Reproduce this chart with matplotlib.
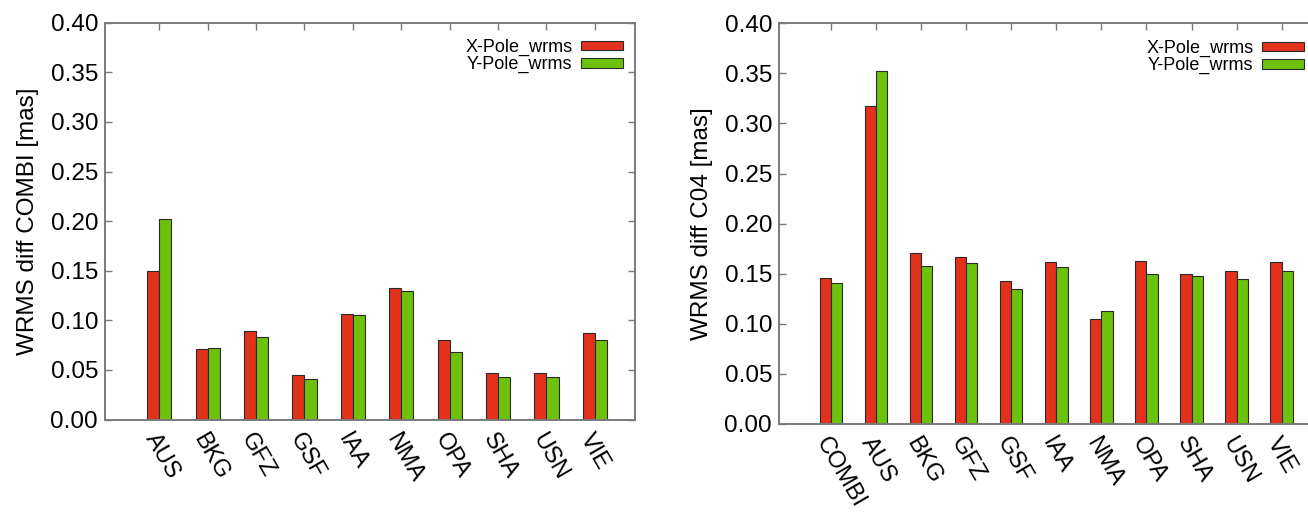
import numpy as np
import matplotlib
matplotlib.use("Agg")
import matplotlib.pyplot as plt

plt.rcParams['font.family'] = ['Liberation Sans', 'DejaVu Sans']

# ---- data ----
combi_cats = ["AUS", "BKG", "GFZ", "GSF", "IAA", "NMA", "OPA", "SHA", "USN", "VIE"]
combi_xpole = [0.150, 0.071, 0.089, 0.045, 0.106, 0.133, 0.080, 0.047, 0.047, 0.087]
combi_ypole = [0.202, 0.072, 0.083, 0.041, 0.105, 0.130, 0.068, 0.043, 0.043, 0.080]

c04_cats = ["COMBI", "AUS", "BKG", "GFZ", "GSF", "IAA", "NMA", "OPA", "SHA", "USN", "VIE"]
c04_xpole = [0.146, 0.317, 0.171, 0.167, 0.143, 0.162, 0.105, 0.163, 0.150, 0.153, 0.162]
c04_ypole = [0.141, 0.352, 0.158, 0.161, 0.135, 0.157, 0.113, 0.150, 0.148, 0.145, 0.153]

series_labels = ["X-Pole_wrms", "Y-Pole_wrms"]
ytick_vals = [0.00, 0.05, 0.10, 0.15, 0.20, 0.25, 0.30, 0.35, 0.40]

RED = "#e2321c"
GREEN = "#6cc20a"
GRAY = "#7a7a7a"
W, H = 1308, 514

fig = plt.figure(figsize=(W / 100, H / 100), dpi=100)
ax1 = fig.add_axes([105 / W, 1 - 419.5 / H, 530 / W, (419.5 - 22.7) / H])
ax2 = fig.add_axes([779 / W, 1 - 424 / H, 541 / W, (424 - 23.3) / H])


def draw(ax, cats, xv, yv, ylabel, xlim, leg_anchor):
    idx = np.arange(len(cats))
    w = 0.25
    ax.bar(idx - w / 2, xv, w, color=RED, edgecolor="#2a2a2a", linewidth=0.8,
           label=series_labels[0], zorder=2)
    ax.bar(idx + w / 2, yv, w, color=GREEN, edgecolor="#2a2a2a", linewidth=0.8,
           label=series_labels[1], zorder=2)
    ax.set_xlim(*xlim)
    ax.set_ylim(0, 0.40)
    ax.set_yticks(ytick_vals)
    ax.set_yticklabels([f"{v:.2f}" for v in ytick_vals])
    ax.set_xticks(idx)
    ax.set_xticklabels(cats, rotation=-60, ha="left", va="top",
                       rotation_mode="anchor")
    ax.tick_params(axis="y", direction="in", left=True, right=True, length=5,
                   width=1.0, color=GRAY, labelsize=17.5, pad=5)
    ax.tick_params(axis="x", direction="in", top=True, bottom=False, length=5,
                   width=1.0, color=GRAY, labelsize=17, pad=7)
    for sp in ax.spines.values():
        sp.set_color(GRAY)
        sp.set_linewidth(1.4)
    ax.set_ylabel(ylabel, fontsize=17.5, labelpad=8)
    ax.legend(loc="upper right", bbox_to_anchor=leg_anchor,
              bbox_transform=fig.transFigure, frameon=False, markerfirst=False,
              fontsize=13, handlelength=2.3, handleheight=0.45,
              labelspacing=0.0, handletextpad=0.5, borderpad=0,
              borderaxespad=0)


draw(ax1, combi_cats, combi_xpole, combi_ypole, "WRMS diff COMBI [mas]",
     (-1.12, 9.83), (623 / W, 1 - 39 / H))
draw(ax2, c04_cats, c04_xpole, c04_ypole, "WRMS diff C04 [mas]",
     (-1.15, 10.85), (1304 / W, 1 - 40 / H))

fig.savefig("out.png", dpi=100)
